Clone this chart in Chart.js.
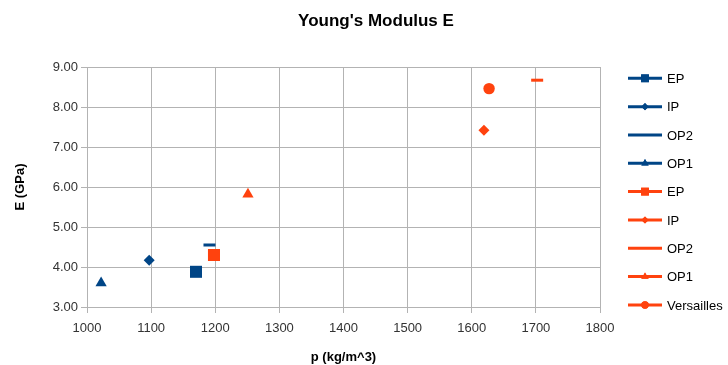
<!DOCTYPE html>
<html>
<head>
<meta charset="utf-8">
<script src="https://cdn.jsdelivr.net/npm/chart.js@4/dist/chart.umd.min.js"></script>
<style>
  html, body { margin: 0; padding: 0; background: #fff; }
  #wrap { width: 728px; height: 365px; }
</style>
</head>
<body>
<div id="wrap"><canvas id="modulusChart"></canvas></div>
<script>
// one point per series
const seriesNames = ['EP', 'IP', 'OP2', 'OP1', 'EP', 'IP', 'OP2', 'OP1', 'Versailles'];
const densities = [1170, 1097, 1191, 1022, 1198, 1619, 1702, 1251, 1627];
const moduli = [3.88, 4.17, 4.55, 3.60, 4.30, 7.42, 8.67, 5.82, 8.46];
const xTicks = [1000, 1100, 1200, 1300, 1400, 1500, 1600, 1700, 1800];
const yTicks = [3, 4, 5, 6, 7, 8, 9];

const blue = '#004586';
const orange = '#ff420e';
const colors = [blue, blue, blue, blue, orange, orange, orange, orange, orange];
const shapes = ['rect', 'rectRot', 'line', 'triangle', 'rect', 'rectRot', 'line', 'triangle', 'circle'];
const radii = { rect: 8.5, rectRot: 5.5, line: 6, triangle: 6.5, circle: 5.7 };

let datasets = seriesNames.map((name, i) => ({
    label: name,
    data: [{ x: densities[i], y: moduli[i] }],
    backgroundColor: colors[i],
    borderColor: colors[i],
    pointStyle: shapes[i],
    pointRadius: radii[shapes[i]],
    pointHoverRadius: radii[shapes[i]],
    pointBorderWidth: shapes[i] === 'line' ? 3 : 0,
    showLine: false
}));

const font = "'Liberation Sans', Arial, sans-serif";

// title and legend drawn at the positions of the original sheet chart
const sheetDecor = {
    id: 'sheetDecor',
    afterDraw(chart) {
        let ctx = chart.ctx;
        ctx.save();
        ctx.fillStyle = '#000';
        ctx.font = 'bold 17px ' + font;
        ctx.textAlign = 'center';
        ctx.textBaseline = 'middle';
        ctx.fillText("Young's Modulus E", 376, 21);

        ctx.font = '13px ' + font;
        ctx.textAlign = 'left';
        seriesNames.forEach((name, i) => {
            let y = 78.3 + i * 28.33;
            ctx.strokeStyle = colors[i];
            ctx.fillStyle = colors[i];
            ctx.lineWidth = 3;
            ctx.beginPath();
            ctx.moveTo(628, y);
            ctx.lineTo(662, y);
            ctx.stroke();
            if (shapes[i] !== 'line') {
                Chart.helpers.drawPoint(ctx, {
                    pointStyle: shapes[i],
                    radius: radii[shapes[i]] * 0.65,
                    borderWidth: 0
                }, 645, y);
                ctx.fill();
            }
            ctx.fillStyle = '#000';
            ctx.fillText(name, 667, y + 1);
        });
        ctx.restore();
    }
};

new Chart(document.getElementById('modulusChart').getContext('2d'), {
    type: 'scatter',
    data: { datasets: datasets },
    plugins: [sheetDecor],
    options: {
        responsive: true,
        maintainAspectRatio: false,
        animation: false,
        layout: { padding: { top: 67, right: 128, left: 0, bottom: 0 } },
        plugins: {
            legend: { display: false },
            title: { display: false },
            tooltip: { enabled: false }
        },
        scales: {
            x: {
                type: 'linear',
                min: 1000,
                max: 1800,
                afterBuildTicks: scale => { scale.ticks = xTicks.map(v => ({ value: v })); },
                afterFit: scale => { scale.height = 58; },
                ticks: {
                    color: '#333',
                    font: { family: font, size: 13 },
                    padding: 8,
                    callback: v => String(v)
                },
                grid: { color: '#b3b3b3', tickLength: 6, lineWidth: 1 },
                border: { color: '#b3b3b3' },
                title: {
                    display: true,
                    text: 'p (kg/m^3)',
                    color: '#000',
                    font: { family: font, size: 13, weight: 'bold' },
                    padding: { top: 8, bottom: 0 }
                }
            },
            y: {
                min: 3,
                max: 9,
                afterBuildTicks: scale => { scale.ticks = yTicks.map(v => ({ value: v })); },
                afterFit: scale => { scale.width = 87; },
                ticks: {
                    color: '#333',
                    font: { family: font, size: 13 },
                    padding: 3,
                    callback: v => v.toFixed(2)
                },
                grid: { color: '#b3b3b3', tickLength: 6, lineWidth: 1 },
                border: { color: '#b3b3b3' },
                title: {
                    display: true,
                    text: 'E (GPa)',
                    color: '#000',
                    font: { family: font, size: 13, weight: 'bold' },
                    padding: { top: 13, bottom: 0 }
                }
            }
        }
    }
});
</script>
</body>
</html>
